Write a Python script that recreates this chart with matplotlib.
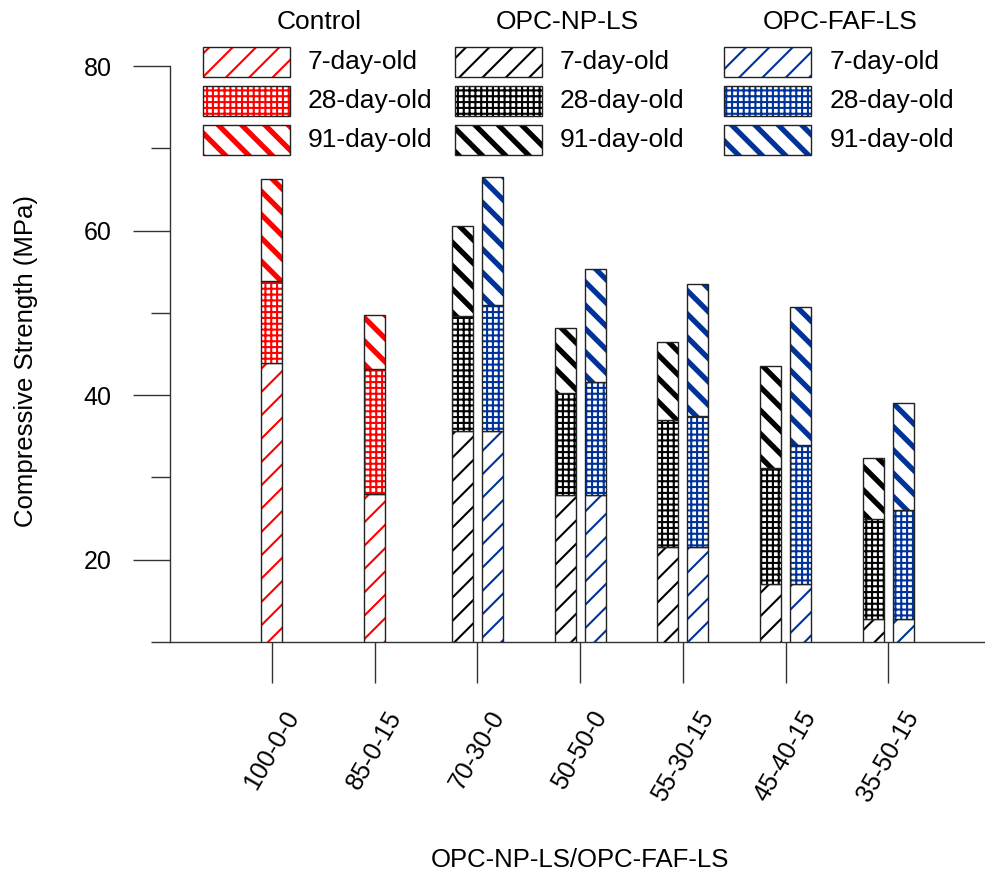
import matplotlib
matplotlib.use("Agg")
import matplotlib as mpl
import matplotlib.pyplot as plt
from matplotlib.patches import Rectangle
import numpy as np

# mix labels (x axis)
categories = ['100-0-0', '85-0-15', '70-30-0', '50-50-0', '55-30-15', '45-40-15', '35-50-15']

# Control (first two mixes only)
control_7 = [43.9, 28.0]
control_28 = [53.9, 43.2]
control_91 = [66.3, 49.7]

# OPC-NP-LS (mixes 3..7)
np_7 = [35.6, 27.9, 21.5, 17.1, 12.8]
np_28 = [49.6, 40.3, 37.0, 31.1, 24.9]
np_91 = [60.6, 48.2, 46.4, 43.6, 32.4]

# OPC-FAF-LS (mixes 3..7)
faf_7 = [35.6, 27.9, 21.5, 17.1, 12.8]
faf_28 = [51.0, 41.6, 37.5, 33.9, 26.0]
faf_91 = [66.5, 55.3, 53.5, 50.7, 39.1]

series_names = ['Control', 'OPC-NP-LS', 'OPC-FAF-LS']
age_labels = ['7-day-old', '28-day-old', '91-day-old']
colors = ['#ff0000', '#000000', '#003399']

plt.rcParams['font.family'] = ['Liberation Sans', 'DejaVu Sans']

# lower dpi makes the hatch spacing wider; point sizes scaled back by S
DPI = 70
S = 100 / DPI

W, H = 985, 877
fig = plt.figure(figsize=(W / DPI, H / DPI), dpi=DPI)
ax = fig.add_axes([170 / W, 1 - 642 / H, (985 - 170) / W, (642 - 66) / H])

# hatch style per age: (pattern, hatch linewidth)
age_hatch = [('/', 1.5 * S), ('++', 1.5 * S), ('\\', 3.8 * S)]
bar_w = 0.205
edge_lw = 1.0 * S


def set_hlw(patch, lw):
    if hasattr(patch, 'set_hatch_linewidth'):
        patch.set_hatch_linewidth(lw)
    else:
        patch._hatch_linewidth = lw


def hatched_bars(x, tops, bottoms, color, hatch, lw):
    heights = np.asarray(tops) - np.asarray(bottoms)
    with mpl.rc_context({'hatch.linewidth': lw}):
        bars = ax.bar(x, heights, bottom=bottoms, width=bar_w, color='white',
                      edgecolor=color, linewidth=0, hatch=hatch)
    for b in bars:
        set_hlw(b, lw)
    ax.bar(x, heights, bottom=bottoms, width=bar_w, fill=False,
           edgecolor='#222222', linewidth=edge_lw)


def draw_group(x, v7, v28, v91, color):
    tops = [v7, v28, v91]
    bottoms = [np.zeros(len(v7)), v7, v28]
    for (hatch, lw), t, b in zip(age_hatch, tops, bottoms):
        hatched_bars(x, t, b, color, hatch, lw)


x = np.arange(len(categories))
draw_group(x[:2], np.array(control_7), np.array(control_28), np.array(control_91), colors[0])
draw_group(x[2:] - 0.146, np.array(np_7), np.array(np_28), np.array(np_91), colors[1])
draw_group(x[2:] + 0.146, np.array(faf_7), np.array(faf_28), np.array(faf_91), colors[2])

# axes styling
ax.set_ylim(10, 80)
ax.set_xlim(-0.99, 6.94)
for s in ['top', 'right']:
    ax.spines[s].set_visible(False)
for s in ['left', 'bottom']:
    ax.spines[s].set_color('#333333')
    ax.spines[s].set_linewidth(edge_lw)
ax.spines['left'].set_bounds(10, 80)

ax.set_yticks([20, 40, 60, 80])
ax.set_yticks([10, 30, 50, 70], minor=True)
ax.tick_params(axis='y', which='major', length=27 * S, width=edge_lw, pad=15 * S,
               labelsize=18 * S, color='#333333')
ax.tick_params(axis='y', which='minor', length=14 * S, width=edge_lw, color='#333333')

ax.set_xticks(x)
ax.set_xticklabels(categories, rotation=60, ha='center', va='top')
ax.tick_params(axis='x', which='major', length=29.5 * S, width=edge_lw, pad=17 * S,
               labelsize=18 * S, color='#333333')

fig.text(580 / W, 1 - 860 / H, 'OPC-NP-LS/OPC-FAF-LS', ha='center', va='center',
         fontsize=18.5 * S)
fig.text(26 / W, 1 - 361 / H, 'Compressive Strength (MPa)', ha='center', va='center',
         rotation=90, fontsize=18.5 * S)

# legend drawn by hand: three columns, one per mix type
patch_x = [203, 455, 724]
text_x = [308, 560, 830]
title_x = [319, 567, 840]
row_top = [47, 86, 125]
pw, ph = 87, 30

for col, (name, color) in enumerate(zip(series_names, colors)):
    fig.text(title_x[col] / W, 1 - 22 / H, name, ha='center', va='center', fontsize=19 * S)
    for row, (label, (hatch, lw)) in enumerate(zip(age_labels, age_hatch)):
        x0 = patch_x[col] / W
        y0 = 1 - (row_top[row] + ph) / H
        with mpl.rc_context({'hatch.linewidth': lw}):
            r = Rectangle((x0, y0), pw / W, ph / H, transform=fig.transFigure,
                          facecolor='white', edgecolor=color, linewidth=0, hatch=hatch)
        set_hlw(r, lw)
        fig.add_artist(r)
        fig.add_artist(Rectangle((x0, y0), pw / W, ph / H, transform=fig.transFigure,
                                 fill=False, edgecolor='#222222', linewidth=edge_lw))
        fig.text(text_x[col] / W, 1 - (row_top[row] + ph / 2) / H, label,
                 ha='left', va='center', fontsize=19 * S)

fig.savefig('out.png', dpi=DPI)
